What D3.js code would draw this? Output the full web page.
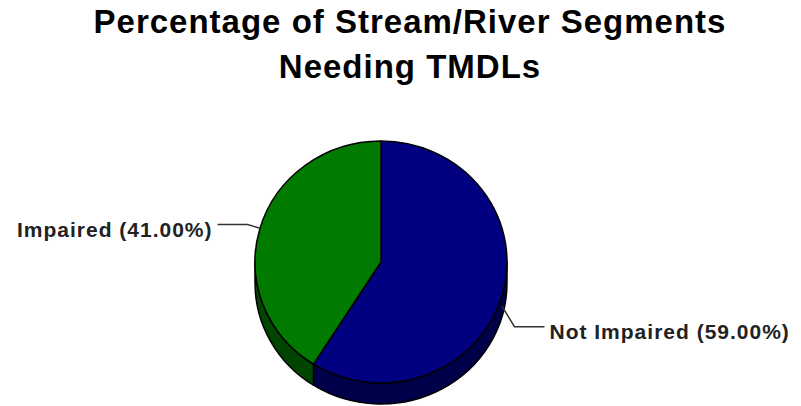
<!DOCTYPE html>
<html>
<head>
<meta charset="utf-8">
<script src="https://cdn.jsdelivr.net/npm/d3@7"></script>
<style>
  body { margin: 0; background: #fff; }
  svg { display: block; font-family: "Liberation Sans", Arial, sans-serif; }
</style>
</head>
<body>
<div id="chart"></div>
<script>
// chart data
const titleLines = ["Percentage of Stream/River Segments", "Needing TMDLs"];
const categories = ["Not Impaired", "Impaired"];
const values = [59.0, 41.0];
const topColors = ["#000080", "#007b00"];
const sideColors = ["#00004a", "#004600"];

const width = 801, height = 406;
const cx = 381, cy = 262, rx = 126, ry = 121, depth = 21;

const svg = d3.select("#chart").append("svg")
    .attr("width", width)
    .attr("height", height);

// title
svg.append("g").selectAll("text").data(titleLines)
    .enter().append("text")
    .attr("x", 410)
    .attr("y", (d, i) => 33 + i * 45)
    .attr("text-anchor", "middle")
    .style("font-size", "33px")
    .style("font-weight", "bold")
    .style("letter-spacing", "1px")
    .attr("fill", "#000")
    .text(d => d);

const slices = d3.pie().sort(null).value(d => d.value)(
    categories.map((c, i) => ({name: c, value: values[i], i: i})));

const pt = (a, dy) => [cx + rx * Math.sin(a), cy - ry * Math.cos(a) + (dy || 0)];

function topPath(d) {
    const p0 = pt(d.startAngle), p1 = pt(d.endAngle);
    const large = (d.endAngle - d.startAngle) > Math.PI ? 1 : 0;
    return `M${cx},${cy}L${p0}A${rx},${ry} 0 ${large} 1 ${p1}Z`;
}

function sidePath(d) {
    // only the front half of the rim is visible
    const s = Math.max(d.startAngle, Math.PI / 2);
    const e = Math.min(d.endAngle, Math.PI * 1.5);
    if (e <= s) return null;
    const a = pt(s), b = pt(e), b2 = pt(e, depth), a2 = pt(s, depth);
    return `M${a}A${rx},${ry} 0 0 1 ${b}L${b2}A${rx},${ry} 0 0 0 ${a2}Z`;
}

const pie = svg.append("g");

pie.selectAll("path.side").data(slices.filter(d => sidePath(d)))
    .enter().append("path")
    .attr("class", "side")
    .attr("d", sidePath)
    .attr("fill", d => sideColors[d.data.i])
    .attr("stroke", "#000")
    .attr("stroke-width", 1.5)
    .attr("stroke-linejoin", "round");

pie.selectAll("path.top").data(slices)
    .enter().append("path")
    .attr("class", "top")
    .attr("d", topPath)
    .attr("fill", d => topColors[d.data.i])
    .attr("stroke", "#000")
    .attr("stroke-width", 1.5)
    .attr("stroke-linejoin", "round");

// labels with leader lines
const labels = svg.append("g");
slices.forEach(d => {
    const mid = (d.startAngle + d.endAngle) / 2;
    const front = Math.cos(mid) < 0;
    const anchor = pt(mid, front ? depth / 2 : 0);
    const dir = [Math.sin(mid), -Math.cos(mid)];
    const elbow = [anchor[0] + dir[0] * 13, anchor[1] + dir[1] * 13 + (front ? depth * 0.8 : 0)];
    const side = dir[0] >= 0 ? 1 : -1;
    const end = [elbow[0] + side * 30, elbow[1]];

    labels.append("path")
        .attr("d", d3.line()([anchor, elbow, end]))
        .attr("fill", "none")
        .attr("stroke", "#333")
        .attr("stroke-width", 1.5);

    labels.append("text")
        .attr("x", end[0] + side * 5)
        .attr("y", end[1] + 12)
        .attr("text-anchor", side > 0 ? "start" : "end")
        .style("font-size", "21px")
        .style("font-weight", "bold")
        .style("letter-spacing", "1px")
        .attr("fill", "#222")
        .text(`${d.data.name} (${d.data.value.toFixed(2)}%)`);
});
</script>
</body>
</html>
